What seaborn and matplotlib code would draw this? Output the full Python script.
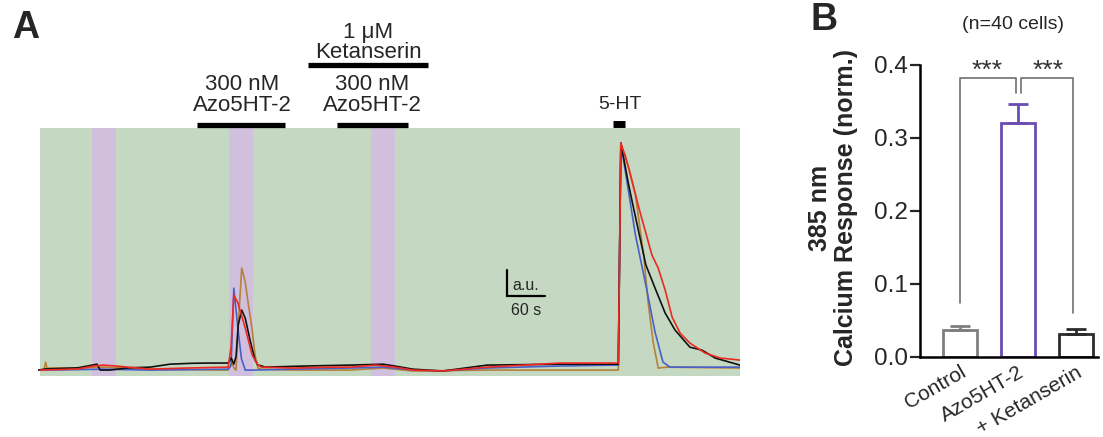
import numpy as np
import pandas as pd
import matplotlib
matplotlib.use("Agg")
import matplotlib.pyplot as plt
import seaborn as sns
from matplotlib.transforms import blended_transform_factory

sns.set_style("white")
plt.rcParams["font.family"] = ["Liberation Sans", "DejaVu Sans"]

# ---------------- Panel A data (time in s, response in a.u.) ----------------
black_t = [-3, 9, 60, 90, 95, 110, 140, 174, 205, 240, 268, 297, 302, 306, 309.5, 313, 318.5, 324,
           331.6, 339.5, 344, 350.5, 355, 420, 489.5, 541.6, 560, 589, 636, 706, 821, 908, 913,
           917, 929, 936, 956.5, 971, 987, 1002.6, 1026, 1045, 1066, 1105]
black_y = [0.0, 0.005, 0.01, 0.026, 0.0, 0.0, 0.01, 0.013, 0.026, 0.03, 0.031, 0.031, 0.053, 0.026,
           0.06, 0.20, 0.264, 0.229, 0.132, 0.044, 0.022, 0.018, 0.013, 0.018, 0.022, 0.026, 0.018,
           0.004, -0.004, 0.022, 0.026, 0.026, 0.026, 1.0, 0.82, 0.727, 0.463, 0.361, 0.251, 0.176,
           0.101, 0.088, 0.053, 0.022]

red_t = [0, 60, 85, 100, 120, 174, 230, 297, 301.6, 306, 312.6, 324, 335, 344, 350, 400, 460, 489.5,
         530, 560, 589, 636, 706, 821, 908, 913, 917, 929.5, 945.5, 966, 976, 987, 998, 1010.5,
         1026, 1050, 1074, 1105]
red_y = [0.0, 0.005, 0.018, 0.022, 0.018, 0.004, 0.009, 0.013, 0.10, 0.330, 0.295, 0.185, 0.066,
         0.022, 0.013, 0.009, 0.013, 0.013, 0.022, 0.013, 0.0, -0.004, 0.013, 0.031, 0.031, 0.031,
         1.0, 0.890, 0.714, 0.507, 0.449, 0.352, 0.233, 0.163, 0.119, 0.075, 0.053, 0.044]

blue_t = [0, 60, 100, 174, 297, 301.6, 306, 312.6, 318, 324, 335, 400, 489.5, 541.6, 589, 636, 706,
          821, 908, 913, 917, 940, 956.5, 971, 983.5, 994.7, 1105]
blue_y = [0.0, 0.002, 0.004, 0.0, 0.004, 0.02, 0.361, 0.18, 0.05, 0.0, 0.0, 0.004, 0.009, 0.013,
          0.0, -0.004, 0.009, 0.018, 0.022, 0.022, 1.0, 0.595, 0.374, 0.167, 0.035, 0.013, 0.013]

brown_t = [6, 9, 11, 60, 100, 174, 297, 303, 306, 309.5, 313, 318.5, 324, 328, 335, 339.5, 344, 350,
           400, 489.5, 541.6, 589, 706, 821, 908, 913, 917, 924, 940, 953, 960, 968, 976, 990, 1105]
brown_y = [0.0, 0.035, 0.009, 0.009, 0.013, 0.004, 0.0, 0.035, 0.009, 0.0, 0.20, 0.449, 0.388, 0.308,
           0.176, 0.066, 0.009, 0.004, 0.0, 0.0, 0.009, -0.004, 0.0, 0.0, 0.0, 0.0, 0.991, 0.947,
           0.771, 0.507, 0.300, 0.123, 0.009, 0.013, 0.009]

light_bands = [(82, 120), (298, 336), (523, 561)]
azo_bars = [(248, 387), (469, 581)]
ketanserin_bar = (423, 613)
ht_bar = (905, 924)

# ---------------- Panel B data ----------------
conditions = ["Control", "Azo5HT-2", "+ Ketanserin"]
responses = [0.037, 0.321, 0.032]
sems = [0.005, 0.025, 0.006]
bar_colors = ["#7f7f7f", "#6a4db3", "#2b2b2b"]

GREEN = "#c5d8c1"
PURPLE = "#d0c0de"

fig = plt.figure(figsize=(11.03, 4.37), dpi=100)

# ---------------- Panel A ----------------
axA = fig.add_axes([0.03454, 0.1396, 0.6363, 0.5675])
axA.set_xlim(-3, 1105)
axA.set_ylim(-0.026, 1.066)
axA.axvspan(0, 1105, color=GREEN, lw=0, zorder=0)
for a, b in light_bands:
    axA.axvspan(a, b, color=PURPLE, lw=0, zorder=0.5)

traces = [(brown_t, brown_y, "#b5823a"), (blue_t, blue_y, "#4a5fc8"),
          (black_t, black_y, "#111111"), (red_t, red_y, "#ec2a22")]
for t, y, c in traces:
    sns.lineplot(x=t, y=y, color=c, lw=1.2, sort=False, estimator=None, ax=axA, zorder=3)
axA.set_axis_off()

tr = blended_transform_factory(axA.transData, axA.transAxes)
for a, b in azo_bars:
    axA.plot([a, b], [1.012, 1.012], transform=tr, color="k", lw=3.8,
             solid_capstyle="butt", clip_on=False)
axA.plot(list(ketanserin_bar), [1.254, 1.254], transform=tr, color="k", lw=3.8,
         solid_capstyle="butt", clip_on=False)
axA.plot(list(ht_bar), [1.016, 1.016], transform=tr, color="k", lw=5,
         solid_capstyle="butt", clip_on=False)

fsA = 16
axA.text(319, 1.177, "300 nM", transform=tr, ha="center", va="center", fontsize=fsA)
axA.text(319, 1.089, "Azo5HT-2", transform=tr, ha="center", va="center", fontsize=fsA)
axA.text(524, 1.177, "300 nM", transform=tr, ha="center", va="center", fontsize=fsA)
axA.text(524, 1.089, "Azo5HT-2", transform=tr, ha="center", va="center", fontsize=fsA)
axA.text(518, 1.387, "1 μM", transform=tr, ha="center", va="center", fontsize=fsA)
axA.text(518, 1.306, "Ketanserin", transform=tr, ha="center", va="center", fontsize=fsA)
axA.text(916, 1.093, "5-HT", transform=tr, ha="center", va="center", fontsize=14)

# scale bar
axA.plot([737, 737, 797], [0.44, 0.326, 0.326], color="k", lw=1.6, solid_joinstyle="miter")
axA.text(746, 0.374, "a.u.", ha="left", va="center", fontsize=11.5)
axA.text(767, 0.262, "60 s", ha="center", va="center", fontsize=11.5)

# ---------------- Panel B ----------------
axB = fig.add_axes([0.8341, 0.1831, 0.1614, 0.6682])
df = pd.DataFrame({"condition": conditions, "response": responses})
sns.barplot(data=df, x="condition", y="response", hue="condition", palette=bar_colors,
            fill=False, width=0.6, linewidth=2, errorbar=None, legend=False, ax=axB)
for i, (v, e, c) in enumerate(zip(responses, sems, bar_colors)):
    axB.errorbar(i, v, yerr=[[0], [e]], fmt="none", ecolor=c, elinewidth=2,
                 capsize=7, capthick=2, zorder=4)

axB.set_xlim(-0.69, 2.38)
axB.set_ylim(0, 0.4)
axB.set_yticks([0.0, 0.1, 0.2, 0.3, 0.4])
axB.set_yticklabels(["0.0", "0.1", "0.2", "0.3", "0.4"], fontsize=17.5)
axB.set_xticks([0, 1, 2])
axB.set_xticklabels(conditions, rotation=30, ha="right", rotation_mode="anchor", fontsize=15)
axB.tick_params(axis="y", direction="out", length=7, width=1.6, pad=2, left=True)
axB.tick_params(axis="x", length=0, pad=4)
axB.set_xlabel("")
axB.set_ylabel("")
sns.despine(ax=axB)
for s in ["left", "bottom"]:
    axB.spines[s].set_linewidth(1.8)
    axB.spines[s].set_color("k")

gray = "#707070"
axB.plot([0, 0, 0.97, 0.97], [0.074, 0.382, 0.382, 0.362], color=gray, lw=1.2, clip_on=False)
axB.plot([1.05, 1.05, 1.95, 1.95], [0.362, 0.382, 0.382, 0.060], color=gray, lw=1.2, clip_on=False)
axB.text(0.47, 0.392, "***", ha="center", va="center", fontsize=19, color="#333333")
axB.text(1.52, 0.392, "***", ha="center", va="center", fontsize=19, color="#333333")

trB = blended_transform_factory(axB.transData, axB.transAxes)
axB.text(0.91, 1.137, "(n=40 cells)", transform=trB, ha="center", va="center", fontsize=14)

fig.text(833 / 1103, 1 - 208 / 437, "385 nm\nCalcium Response (norm.)", rotation=90,
         ha="center", va="center", multialignment="center", fontsize=18, fontweight="bold",
         linespacing=1.15)

fig.text(26 / 1103, 1 - 28 / 437, "A", ha="center", va="center", fontsize=27, fontweight="bold")
fig.text(824 / 1103, 1 - 20 / 437, "B", ha="center", va="center", fontsize=27, fontweight="bold")

fig.savefig("out.png", dpi=100)
